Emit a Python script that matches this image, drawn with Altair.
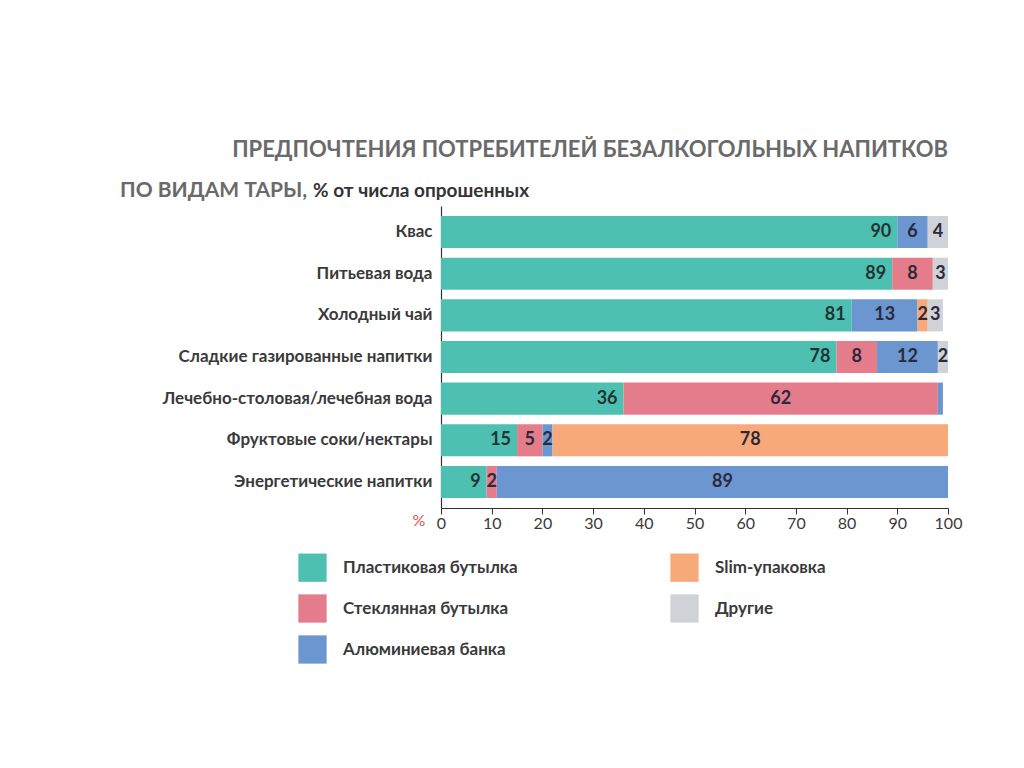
import altair as alt
import pandas as pd

categories = ["Квас", "Питьевая вода", "Холодный чай", "Сладкие газированные напитки",
              "Лечебно-столовая/лечебная вода", "Фруктовые соки/нектары", "Энергетические напитки"]
types = ["Пластиковая бутылка", "Стеклянная бутылка", "Алюминиевая банка", "Slim-упаковка", "Другие"]
plastic = [90, 89, 81, 78, 36, 15, 9]
glass = [0, 8, 0, 8, 62, 5, 2]
can = [6, 0, 13, 12, 1, 2, 89]
slim = [0, 0, 2, 0, 0, 78, 0]
other = [4, 3, 3, 2, 0, 0, 0]
colors = ["#4ec0b1", "#e47c8c", "#6b96d0", "#f7a97a", "#cfd3d8"]
x_ticks = [0, 10, 20, 30, 40, 50, 60, 70, 80, 90, 100]

series = [plastic, glass, can, slim, other]
rows = []
for ti, (t, vals) in enumerate(zip(types, series)):
    for c, v in zip(categories, vals):
        if v > 0:
            rows.append({"cat": c, "type": t, "idx": ti, "value": v})
df = pd.DataFrame(rows)

F = "Lato, 'Open Sans', sans-serif"

base = alt.Chart(df).transform_stack(
    stack="value", groupby=["cat"], as_=["v0", "v1"], sort=[alt.SortField("idx")]
).transform_calculate(mid="(datum.v0 + datum.v1) / 2")

yenc = alt.Y("cat:N", sort=categories,
             scale=alt.Scale(paddingInner=0.23, paddingOuter=0.24),
             axis=alt.Axis(title=None, ticks=False, labelFont=F, labelFontSize=17,
                           labelFontWeight="bold", labelColor="#3a3a3a", labelPadding=9,
                           labelLimit=400, domainColor="#333333", domainWidth=1.2))
xscale = alt.Scale(domain=[0, 100], nice=False, zero=True)

bars = base.mark_bar().encode(
    y=yenc,
    x=alt.X("v0:Q", scale=xscale,
            axis=alt.Axis(title=None, values=x_ticks, grid=False, labelFont=F, labelFontSize=16,
                          labelColor="#3a3a3a", labelFlush=False, tickSize=6, tickColor="#333333",
                          domainColor="#333333", domainWidth=1.2, labelPadding=1)),
    x2="v1:Q",
    color=alt.Color("type:N", scale=alt.Scale(domain=types, range=colors),
                    legend=alt.Legend(title=None, orient="none", legendX=-143, legendY=347,
                                      columns=2, columnPadding=152, rowPadding=12,
                                      symbolType="square", symbolSize=800, symbolStrokeWidth=0,
                                      symbolOpacity=1, labelFont=F, labelFontSize=17,
                                      labelFontWeight="bold", labelColor="#3a3a3a",
                                      labelOffset=16, labelLimit=300)),
)

lab_plastic = base.transform_filter(alt.datum.idx == 0).mark_text(
    align="right", baseline="middle", dx=-6, font=F, fontSize=18, fontWeight="bold", color="#1e3535"
).encode(y=alt.Y("cat:N", sort=categories), x=alt.X("v1:Q", scale=xscale), text="value:Q")

lab_rest = base.transform_filter((alt.datum.idx > 0) & (alt.datum.value >= 2)).mark_text(
    align="center", baseline="middle", font=F, fontSize=18, fontWeight="bold", color="#2a2a3a"
).encode(y=alt.Y("cat:N", sort=categories), x=alt.X("mid:Q", scale=xscale), text="value:Q")

t1 = alt.Chart(pd.DataFrame({"t": ["ПРЕДПОЧТЕНИЯ ПОТРЕБИТЕЛЕЙ БЕЗАЛКОГОЛЬНЫХ НАПИТКОВ"]})).mark_text(
    align="right", baseline="alphabetic", font=F, fontSize=22, fontWeight="bold", color="#6a6a6a"
).encode(x=alt.value(507), y=alt.value(-49), text="t:N")
t2 = alt.Chart(pd.DataFrame({"t": ["ПО ВИДАМ ТАРЫ,"]})).mark_text(
    align="left", baseline="alphabetic", font=F, fontSize=21, fontWeight="bold", color="#6a6a6a"
).encode(x=alt.value(-321), y=alt.value(-9), text="t:N")
t3 = alt.Chart(pd.DataFrame({"t": ["% от числа опрошенных"]})).mark_text(
    align="left", baseline="alphabetic", font=F, fontSize=19, fontWeight="bold", color="#333333"
).encode(x=alt.value(-128), y=alt.value(-9), text="t:N")
pct = alt.Chart(pd.DataFrame({"t": ["%"]})).mark_text(
    align="center", baseline="middle", font=F, fontSize=16, color="#d9534f"
).encode(x=alt.value(-22), y=alt.value(315), text="t:N")

chart = alt.layer(bars, lab_plastic, lab_rest, t1, t2, t3, pct).properties(
    width=507, height=302,
    autosize=alt.AutoSizeParams(type="none"),
    padding={"left": 433, "top": 198, "right": 60, "bottom": 240},
).configure(background="white").configure_view(stroke=None)

chart.save("out.html", embed_options={"renderer": "svg", "actions": False})
